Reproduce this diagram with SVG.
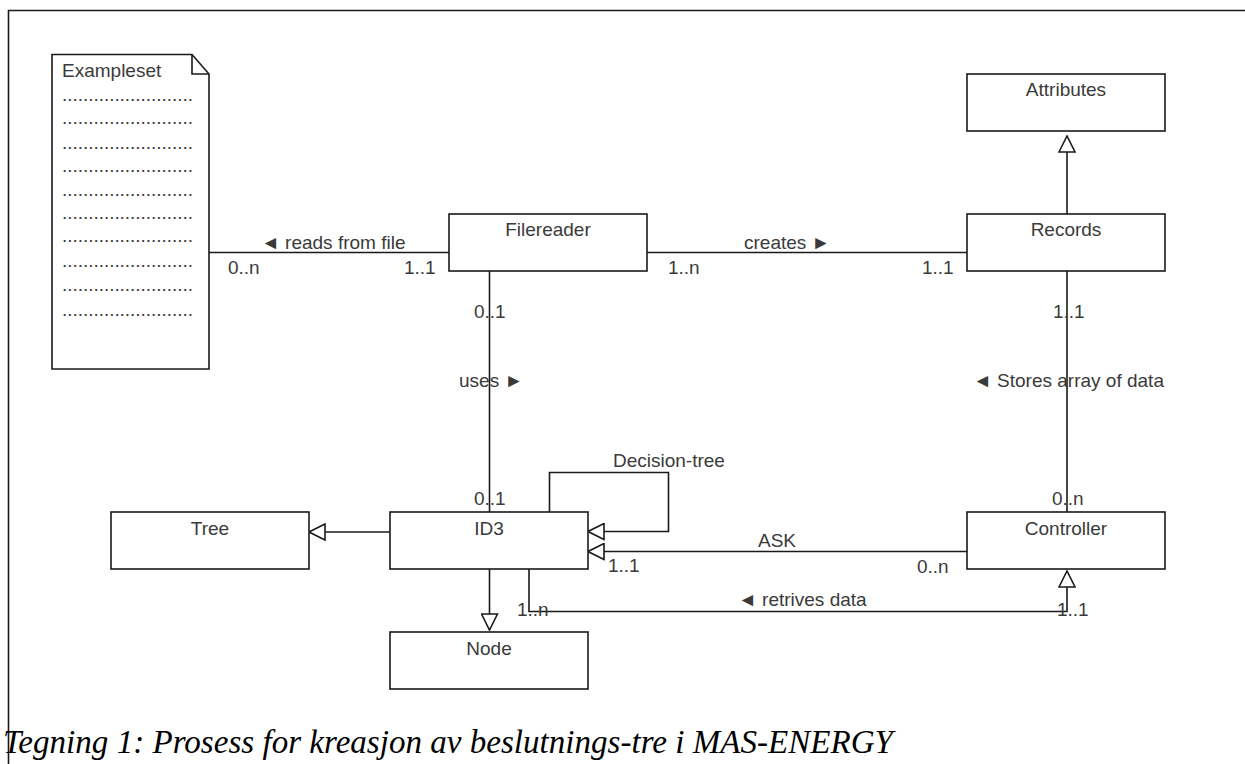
<svg xmlns="http://www.w3.org/2000/svg" width="1245" height="764" viewBox="0 0 1245 764">
<style>
.box{fill:#fff;stroke:#1a1a1a;stroke-width:1.6}
.ln{fill:none;stroke:#1a1a1a;stroke-width:1.6}
.t{font-family:"Liberation Sans",Arial,sans-serif;font-size:19px;fill:#3a3a3a}
.c{text-anchor:middle}
.cap{font-family:"Liberation Serif","Times New Roman",serif;font-style:italic;font-size:33px;fill:#000}
</style>
<defs>
<marker id="gen" viewBox="0 0 18 18" refX="17" refY="9" markerWidth="18" markerHeight="18" markerUnits="userSpaceOnUse" orient="auto">
<path d="M1,1 L17,9 L1,17 Z" fill="#fff" stroke="#1a1a1a" stroke-width="1.6"/>
</marker>
</defs>
<rect width="1245" height="764" fill="#fff"/>
<path class="ln" d="M8.5,764 V10.5 H1245"/>

<g id="connectors">
<path class="ln" d="M209,252.5 H449"/>
<path class="ln" d="M647,252.5 H967"/>
<path class="ln" d="M489.5,271 V512"/>
<path class="ln" d="M1067,271 V512"/>
<path class="ln" d="M1067,214 V136" marker-end="url(#gen)"/>
<path class="ln" d="M390,532 H309" marker-end="url(#gen)"/>
<path class="ln" d="M489.5,569 V630" marker-end="url(#gen)"/>
<path class="ln" d="M549.5,512 V472.5 H668.5 V531.5 H588" marker-end="url(#gen)"/>
<path class="ln" d="M967,551.5 H588" marker-end="url(#gen)"/>
<path class="ln" d="M529,569 V611.5 H1067 V571" marker-end="url(#gen)"/>
<text class="t" x="261" y="249">◄ reads from file</text>
<text class="t" x="228" y="274">0..n</text>
<text class="t" x="404" y="274">1..1</text>
<text class="t" x="744" y="249">creates ►</text>
<text class="t" x="668" y="274">1..n</text>
<text class="t" x="922" y="274">1..1</text>
<text class="t" x="474" y="318">0..1</text>
<text class="t" x="459" y="387">uses ►</text>
<text class="t" x="474" y="505">0..1</text>
<text class="t" x="1053" y="318">1..1</text>
<text class="t" x="973" y="387">◄ Stores array of data</text>
<text class="t" x="1052" y="505">0..n</text>
<text class="t" x="613" y="467">Decision-tree</text>
<text class="t" x="758" y="547">ASK</text>
<text class="t" x="608" y="572">1..1</text>
<text class="t" x="917" y="573">0..n</text>
<text class="t" x="738" y="606">◄ retrives data</text>
<text class="t" x="517" y="616">1..n</text>
<text class="t" x="1057" y="616">1..1</text>
</g>

<g id="exampleset">
<path class="box" d="M52,54.5 H192 L209,74 V369 H52 Z"/>
<path class="ln" d="M192,54.5 V74 H209"/>
<text class="t" x="62" y="77">Exampleset</text>
<g class="t">
<text x="62" y="101" textLength="131" lengthAdjust="spacing">.........................</text>
<text x="62" y="124" textLength="131" lengthAdjust="spacing">.........................</text>
<text x="62" y="149" textLength="131" lengthAdjust="spacing">.........................</text>
<text x="62" y="172" textLength="131" lengthAdjust="spacing">.........................</text>
<text x="62" y="196" textLength="131" lengthAdjust="spacing">.........................</text>
<text x="62" y="219" textLength="131" lengthAdjust="spacing">.........................</text>
<text x="62" y="242" textLength="131" lengthAdjust="spacing">.........................</text>
<text x="62" y="267" textLength="131" lengthAdjust="spacing">.........................</text>
<text x="62" y="291" textLength="131" lengthAdjust="spacing">.........................</text>
<text x="62" y="316" textLength="131" lengthAdjust="spacing">.........................</text>
</g>
</g>

<g id="filereader"><rect class="box" x="449" y="214" width="198" height="57"/><text class="t c" x="548" y="236">Filereader</text></g>
<g id="records"><rect class="box" x="967" y="214" width="198" height="57"/><text class="t c" x="1066" y="236">Records</text></g>
<g id="attributes"><rect class="box" x="967" y="74" width="198" height="57"/><text class="t c" x="1066" y="96">Attributes</text></g>
<g id="tree"><rect class="box" x="111" y="512" width="198" height="57"/><text class="t c" x="210" y="535">Tree</text></g>
<g id="id3"><rect class="box" x="390" y="512" width="198" height="57"/><text class="t c" x="489" y="535">ID3</text></g>
<g id="node"><rect class="box" x="390" y="632" width="198" height="57"/><text class="t c" x="489" y="655">Node</text></g>
<g id="controller"><rect class="box" x="967" y="512" width="198" height="57"/><text class="t c" x="1066" y="535">Controller</text></g>

<text class="cap" x="3" y="753" textLength="890" lengthAdjust="spacingAndGlyphs">Tegning 1: Prosess for kreasjon av beslutnings-tre i MAS-ENERGY</text>
</svg>
